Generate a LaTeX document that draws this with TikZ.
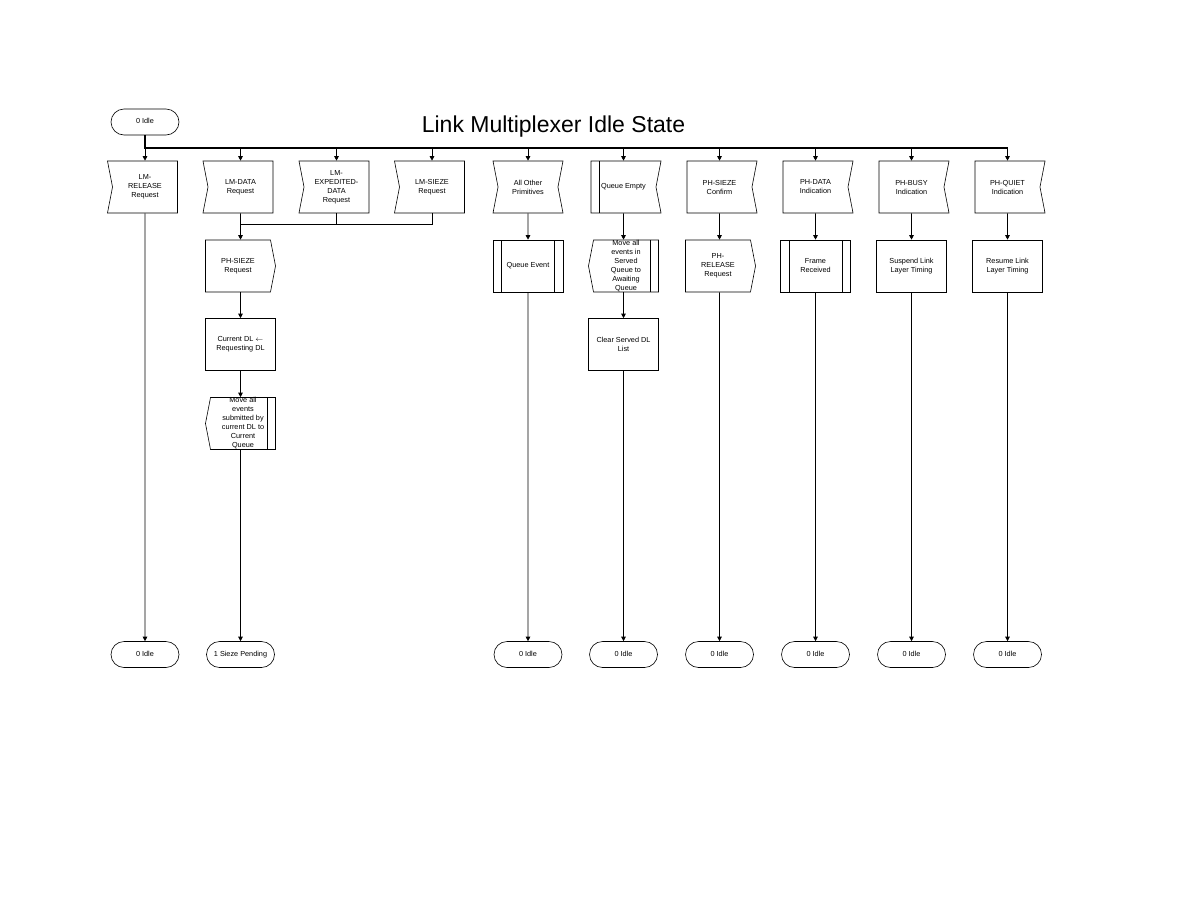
\documentclass[tikz,border=0pt]{standalone}
\usepackage{fontspec}
\setmainfont{Liberation Sans}
\usetikzlibrary{positioning,shapes.symbols,shapes.misc,arrows.meta}
\tikzset {
    style T/.style={
        draw=black,
        line width=0.6pt,
        rounded rectangle, % terminal
        minimum width=70pt,
        minimum height=26pt,
        inner sep=1pt,
        text height=5.3pt,
        text depth=1.5pt,
        align=center,
    },
    style A/.style={
        draw=black,
        line width=0.6pt,
        rectangle, % plain task box
        minimum width=70pt,
        minimum height=52pt,
        inner sep=1pt,
        align=center,
    },
    style B/.style={
        style A,
        signal, % input, notch on the left
        signal to=nowhere,
        signal from=west,
        signal pointer angle=158,
    },
    style C/.style={
        style A,
        signal, % input, notch on the right
        signal to=nowhere,
        signal from=east,
        signal pointer angle=158,
    },
    style D/.style={
        style A,
        signal, % output, point on the right
        signal to=east,
        signal from=nowhere,
        signal pointer angle=158,
    },
    style F/.style={
        style A,
        signal, % point on the left, bar on the right
        signal to=west,
        signal from=nowhere,
        signal pointer angle=158,
        bar right,
    },
    bar left/.style={
        path picture={\draw[line width=0.6pt] ([xshift=8.5pt]path picture bounding box.north west) -- ([xshift=8.5pt]path picture bounding box.south west);}
    },
    bar right/.style={
        path picture={\draw[line width=0.6pt] ([xshift=-8.5pt]path picture bounding box.north east) -- ([xshift=-8.5pt]path picture bounding box.south east);}
    },
    bar both/.style={
        path picture={
            \draw[line width=0.6pt] ([xshift=8.5pt]path picture bounding box.north west) -- ([xshift=8.5pt]path picture bounding box.south west);
            \draw[line width=0.6pt] ([xshift=-8.5pt]path picture bounding box.north east) -- ([xshift=-8.5pt]path picture bounding box.south east);
        }
    },
    flow/.style={line width=0.9pt, -{Triangle[length=4.5pt,width=4.5pt]}},
    drop/.style={line width=0.6pt, -{Triangle[length=4.5pt,width=4.5pt]}},
}

\begin{document}
\begin{tikzpicture}
        [x=1pt, y=-1pt, font=\fontsize{7.3}{9}\selectfont]

        \useasboundingbox (0,0) rectangle (1188,918);

        \node[style T] at (145,122) (start) {0 Idle};
        \node[anchor=base, font=\fontsize{23}{27}\selectfont] at (553.5,132) (title) {Link Multiplexer Idle State};
        \coordinate (busL) at (145,148);
        \coordinate (busR) at (1007.5,148);

        % signals received
        \node[style B] at (145,187) (lmrel) {LM-\\RELEASE\\Request};
        \node[style B] at (240.5,187) (lmdata) {LM-DATA\\Request};
        \node[style B] at (336.5,187) (lmexp) {LM-\\EXPEDITED-\\DATA\\Request};
        \node[style B] at (432,187) (lmsz) {LM-SIEZE\\Request};
        \node[style B, signal from=west and east] at (528,187) (allother) {All Other\\Primitives};
        \node[style C, bar left] at (623.5,187) (qempty) {Queue Empty};
        \node[style C] at (719.5,187) (phcon) {PH-SIEZE\\Confirm};
        \node[style C] at (815.5,187) (phdata) {PH-DATA\\Indication};
        \node[style C] at (911.5,187) (phbusy) {PH-BUSY\\Indication};
        \node[style C] at (1007.5,187) (phquiet) {PH-QUIET\\Indication};

        % second row
        \coordinate (join) at (240.5,224);
        \node[style D] at (238,266) (phsreq) {PH-SIEZE\\Request};
        \node[style A, bar both] at (528,266) (qevent) {Queue Event};
        \node[style F, label={[align=center]center:{Move all\\events in\\Served\\Queue to\\Awaiting\\Queue}}] at (626,266) (mvserved) {};
        \node[style D] at (718,266) (phrel) {PH-\\RELEASE\\Request};
        \node[style A, bar both] at (815.5,266) (frame) {Frame\\Received};
        \node[style A] at (911.5,266) (suspend) {Suspend Link\\Layer Timing};
        \node[style A] at (1007.5,266) (resume) {Resume Link\\Layer Timing};

        \node[style A] at (240.5,344.5) (curdl) {Current DL $\leftarrow$\\Requesting DL};
        \node[style A] at (623.5,344.5) (clear) {Clear Served DL\\List};
        \node[style F, label={[align=center]center:{Move all\\events\\submitted by\\current DL to\\Current\\Queue}}] at (243,423.5) (mvcur) {};

        % next states
        \node[style T] at (145,654.5) (idleA) {0 Idle};
        \node[style T] at (240.5,654.5) (pending) {1 Sieze Pending};
        \node[style T] at (528,654.5) (idleB) {0 Idle};
        \node[style T] at (623.5,654.5) (idleC) {0 Idle};
        \node[style T] at (719.5,654.5) (idleD) {0 Idle};
        \node[style T] at (815.5,654.5) (idleE) {0 Idle};
        \node[style T] at (911.5,654.5) (idleF) {0 Idle};
        \node[style T] at (1007.5,654.5) (idleG) {0 Idle};

        \draw[line width=1.1pt] (start) -- (busL) -- (busR);
        \foreach \n in {lmrel,lmdata,lmexp,lmsz,allother,qempty,phcon,phdata,phbusy,phquiet}
            \draw[flow] (\n.north |- busL) -- (\n.north);

        \draw[line width=0.9pt] (lmexp) |- (join);
        \draw[line width=0.9pt] (lmsz) |- (join);
        \draw[flow] (lmdata) -- (lmdata |- phsreq.north);
        \draw[flow] (curdl |- phsreq.south) -- (curdl);
        \draw[flow] (curdl) -- (curdl |- mvcur.north);
        \draw[flow] (allother) -- (qevent);
        \draw[flow] (qempty) -- (qempty |- mvserved.north);
        \draw[flow] (clear |- mvserved.south) -- (clear);
        \draw[flow] (phcon) -- (phcon |- phrel.north);
        \draw[flow] (phdata) -- (frame);
        \draw[flow] (phbusy) -- (suspend);
        \draw[flow] (phquiet) -- (resume);

        \draw[drop] (lmrel) -- (idleA);
        \draw[drop] (pending |- mvcur.south) -- (pending);
        \draw[drop] (qevent) -- (idleB);
        \draw[drop] (clear) -- (idleC);
        \draw[drop] (idleD |- phrel.south) -- (idleD);
        \draw[drop] (frame) -- (idleE);
        \draw[drop] (suspend) -- (idleF);
        \draw[drop] (resume) -- (idleG);
    \end{tikzpicture}
\end{document}
